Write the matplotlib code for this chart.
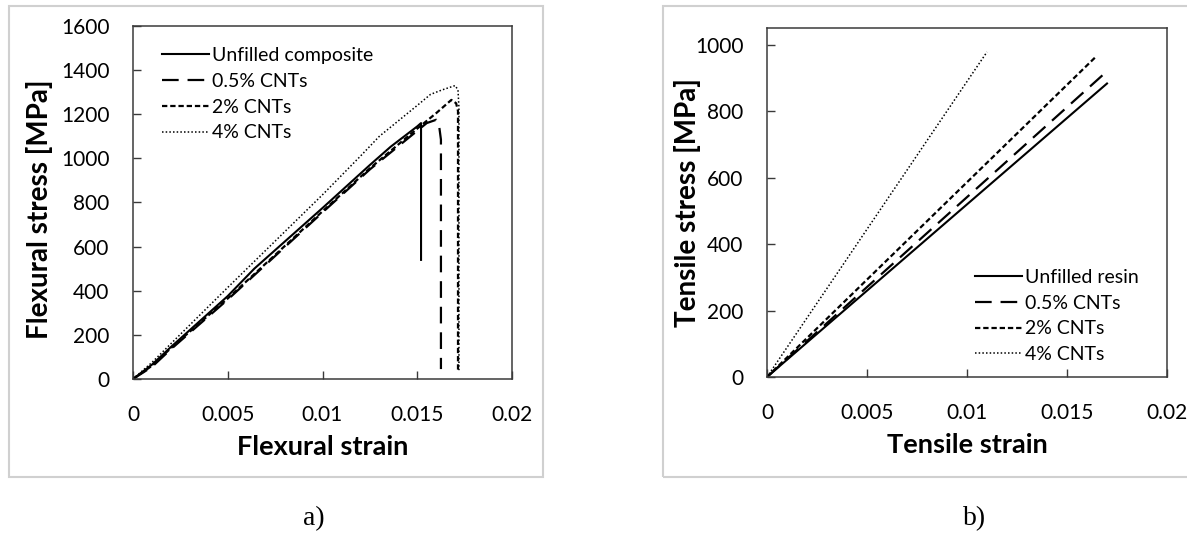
import matplotlib
matplotlib.use("Agg")
import matplotlib.pyplot as plt
from matplotlib.patches import Rectangle

# flexural test (panel a)
flex_unfilled_x = [0, 0.001, 0.002, 0.005, 0.0064, 0.010, 0.0125, 0.0136, 0.0150, 0.0152, 0.0152]
flex_unfilled_y = [0, 65, 145, 376, 500, 775, 970, 1053, 1145, 1160, 540]
flex_cnt05_x = [0, 0.001, 0.002, 0.005, 0.010, 0.0125, 0.015, 0.0155, 0.0160, 0.01615, 0.01625, 0.01625]
flex_cnt05_y = [0, 55, 135, 360, 755, 950, 1125, 1160, 1175, 1150, 1085, 45]
flex_cnt2_x = [0, 0.001, 0.002, 0.005, 0.010, 0.0125, 0.015, 0.016, 0.0168, 0.01705, 0.01715, 0.01715]
flex_cnt2_y = [0, 60, 140, 365, 760, 955, 1135, 1205, 1265, 1250, 1215, 32]
flex_cnt4_x = [0, 0.001, 0.002, 0.005, 0.010, 0.012, 0.013, 0.014, 0.015, 0.0157, 0.0163, 0.0170, 0.01715, 0.0172, 0.0172]
flex_cnt4_y = [0, 75, 160, 415, 835, 1010, 1100, 1170, 1240, 1290, 1310, 1330, 1310, 1230, 40]

# tensile test (panel b), straight lines from origin
tens_unfilled_x = [0, 0.0170]
tens_unfilled_y = [0, 883]
tens_cnt05_x = [0, 0.0170]
tens_cnt05_y = [0, 920]
tens_cnt2_x = [0, 0.0164]
tens_cnt2_y = [0, 961]
tens_cnt4_x = [0, 0.0110]
tens_cnt4_y = [0, 978]

styles = [
    dict(color="black", lw=1.5, ls="-"),
    dict(color="black", lw=1.6, ls=(0, (7.5, 4))),
    dict(color="black", lw=1.6, ls=(0, (2.4, 1.3))),
    dict(color="black", lw=1.1, ls=(0, (1, 1.4))),
]

W, H = 1187, 535
fig = plt.figure(figsize=(W / 100, H / 100), dpi=100)
font = ["Lato", "DejaVu Sans"]
spine_col = "#3a3a3a"


def px_axes(x0, x1, y0, y1):
    return fig.add_axes([x0 / W, (H - y1) / H, (x1 - x0) / W, (y1 - y0) / H])


def style_axes(ax):
    for s in ax.spines.values():
        s.set_color(spine_col)
        s.set_linewidth(1.1)
    ax.tick_params(direction="in", length=6, width=1, color=spine_col,
                   labelsize=15, top=False, right=False)
    ax.tick_params(axis="x", pad=19)
    ax.tick_params(axis="y", pad=17)
    for lab in ax.get_xticklabels() + ax.get_yticklabels():
        lab.set_family(font)


# grey frames around each panel
for x0, x1 in [(9, 543), (663, 1195)]:
    fig.patches.append(Rectangle((x0 / W, (H - 477) / H), (x1 - x0) / W, (477 - 6) / H,
                                 transform=fig.transFigure, fill=False,
                                 edgecolor="#d0d0d0", lw=1.5))

# panel a
ax1 = px_axes(133, 512, 26, 379)
labels_a = ["Unfilled composite", "0.5% CNTs", "2% CNTs", "4% CNTs"]
series_a = [(flex_unfilled_x, flex_unfilled_y), (flex_cnt05_x, flex_cnt05_y),
            (flex_cnt2_x, flex_cnt2_y), (flex_cnt4_x, flex_cnt4_y)]
for (x, y), lab, st in zip(series_a, labels_a, styles):
    ax1.plot(x, y, label=lab, **st)
ax1.set_xlim(0, 0.02)
ax1.set_ylim(0, 1600)
ax1.set_xticks([0, 0.005, 0.01, 0.015, 0.02])
ax1.set_xticklabels(["0", "0.005", "0.01", "0.015", "0.02"])
ax1.set_yticks(range(0, 1601, 200))
style_axes(ax1)
ax1.set_xlabel("Flexural strain", fontsize=19.5, fontweight="bold", family=font)
ax1.set_ylabel("Flexural stress [MPa]", fontsize=20, fontweight="bold", family=font)
ax1.xaxis.set_label_coords(0.5, -0.16)
ax1.yaxis.set_label_coords(-0.21, 0.48)
ax1.legend(loc="upper left", bbox_to_anchor=(0.0765, 0.94), frameon=False,
           borderpad=0, borderaxespad=0, handlelength=2.4, handletextpad=0.15,
           labelspacing=0.45, prop={"family": font, "size": 14})

# panel b
ax2 = px_axes(767, 1167, 28, 377)
labels_b = ["Unfilled resin", "0.5% CNTs", "2% CNTs", "4% CNTs"]
series_b = [(tens_unfilled_x, tens_unfilled_y), (tens_cnt05_x, tens_cnt05_y),
            (tens_cnt2_x, tens_cnt2_y), (tens_cnt4_x, tens_cnt4_y)]
for (x, y), lab, st in zip(series_b, labels_b, styles):
    ax2.plot(x, y, label=lab, **st)
ax2.set_xlim(0, 0.02)
ax2.set_ylim(0, 1050)
ax2.set_xticks([0, 0.005, 0.01, 0.015, 0.02])
ax2.set_xticklabels(["0", "0.005", "0.01", "0.015", "0.02"])
ax2.set_yticks(range(0, 1001, 200))
style_axes(ax2)
ax2.set_xlabel("Tensile strain", fontsize=19.5, fontweight="bold", family=font)
ax2.set_ylabel("Tensile stress [MPa]", fontsize=20, fontweight="bold", family=font)
ax2.xaxis.set_label_coords(0.5, -0.16)
ax2.yaxis.set_label_coords(-0.165, 0.5)
ax2.legend(loc="upper left", bbox_to_anchor=(0.52, 0.31), frameon=False,
           borderpad=0, borderaxespad=0, handlelength=2.4, handletextpad=0.15,
           labelspacing=0.45, prop={"family": font, "size": 14})

# captions
fig.text(314 / W, (H - 519) / H, "a)", ha="center", va="center", fontsize=20,
         family="Liberation Serif")
fig.text(975 / W, (H - 519) / H, "b)", ha="center", va="center", fontsize=20,
         family="Liberation Serif")

fig.savefig("out.png", dpi=100)
